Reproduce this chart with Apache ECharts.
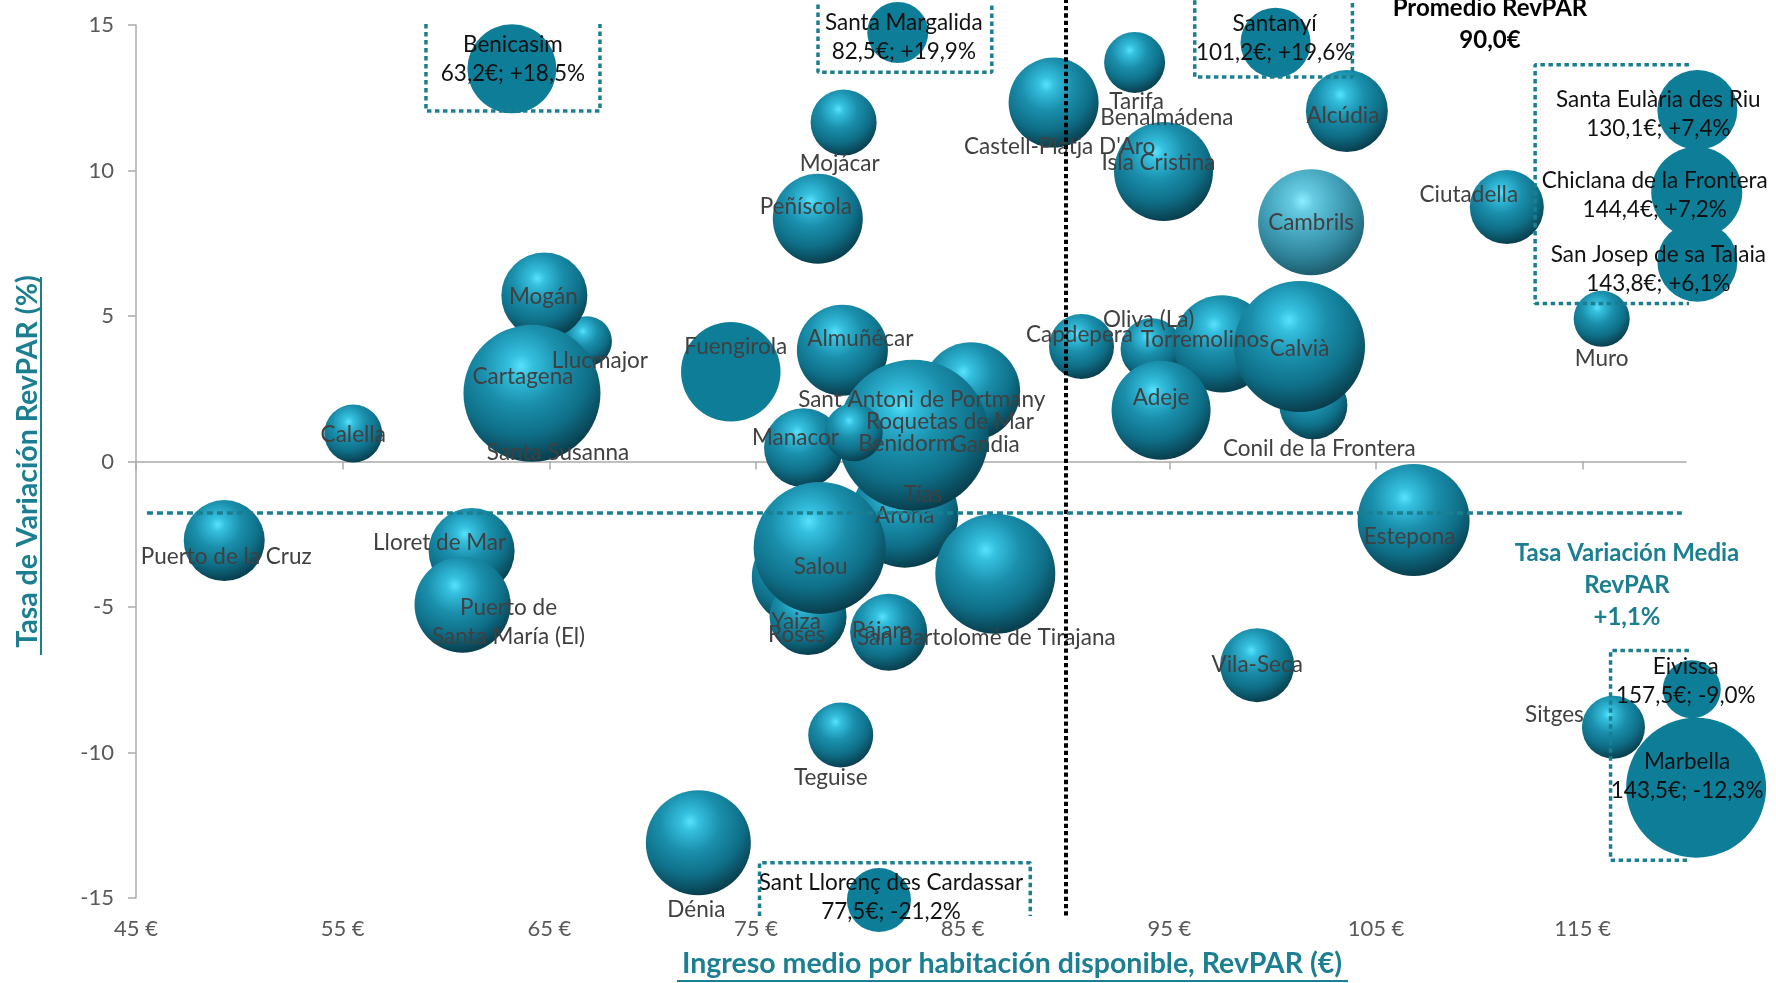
<!DOCTYPE html>
<html>
<head>
<meta charset="utf-8">
<script src="https://cdn.jsdelivr.net/npm/echarts@6/dist/echarts.min.js"></script>
<style>
html,body{margin:0;padding:0;background:#ffffff;}
#c{width:1776px;height:983px;}
</style>
</head>
<body>
<div id="c"></div>
<script>
// ---------------- DATA ----------------
const names = [
  'Benalmádena','Santa Susanna','Roquetas de Mar','Tías','Roses','Yaiza','Llucmajor','Mogán','Cartagena',
  'Calella','Puerto de la Cruz','Lloret de Mar','Puerto de Santa María (El)','Mojácar','Peñíscola','Almuñécar',
  'Gandia','Arona','Manacor','Benidorm','Sant Antoni de Portmany','Salou','Pájara','San Bartolomé de Tirajana',
  'Teguise','Dénia',"Castell-Platja D'Aro",'Tarifa','Isla Cristina','Alcúdia','Cambrils','Ciutadella','Muro',
  'Capdepera','Oliva (La)','Torremolinos','Adeje','Conil de la Frontera','Calvià','Estepona','Vila-Seca','Sitges',
  'Fuengirola','Benicasim','Santa Margalida','Santanyí','Santa Eulària des Riu','Chiclana de la Frontera',
  'San Josep de sa Talaia','Eivissa','Marbella','Sant Llorenç des Cardassar'
];
// plotted RevPAR (€)
const revpar = [
  94.69,64.55,84.14,82.69,77.12,77.52,66.82,64.76,64.16,
  55.51,49.27,61.24,60.80,79.24,77.99,79.18,
  85.41,82.20,77.30,82.61,79.73,78.08,81.42,86.58,
  79.10,72.21,89.40,93.32,94.72,103.59,101.86,111.33,115.92,
  90.75,94.14,97.54,94.60,101.97,101.30,106.82,99.25,116.49,
  73.78,63.19,81.86,100.14,120.55,120.52,
  120.55,120.28,120.49,80.95
];
// plotted RevPAR variation (%)
const variation = [
  9.96,1.50,1.16,-1.40,-3.97,-5.33,4.13,5.70,2.34,
  0.96,-2.72,-3.08,-4.92,11.65,8.34,3.82,
  2.41,-1.81,0.47,0.90,1.00,-2.97,-5.87,-3.86,
  -9.40,-13.10,12.33,13.71,9.96,12.04,8.22,8.74,4.90,
  3.95,3.86,4.04,1.76,1.93,3.95,-2.01,-7.00,-9.13,
  3.08,13.49,14.74,14.39,12.08,9.25,
  6.86,-7.83,-11.21,-15.07
];
// bubble size (relative units)
const bubbleSize = [
  49,36,31.4,19.4,92.2,59.3,25,74,187.7,
  33.6,65.6,74,92.2,43.6,81,82.8,
  96,114.5,62.4,228,33.6,174.2,59.3,144,
  42.3,110.3,81,37.2,98,67.2,112.4,54.8,31.4,
  42.3,38.4,94.1,98,46.2,171.6,125.4,54.8,39.7,
  99,79.2,37.2,49,64,82.8,
  64,33.6,196,41
];
// callouts: real values printed in the boxes
const calloutNames = ['Benicasim','Santa Margalida','Santanyí','Santa Eulària des Riu','Chiclana de la Frontera',
  'San Josep de sa Talaia','Eivissa','Marbella','Sant Llorenç des Cardassar'];
const calloutRevpar = [63.2, 82.5, 101.2, 130.1, 144.4, 143.8, 157.5, 143.5, 77.5];
const calloutVariation = [18.5, 19.9, 19.6, 7.4, 7.2, 6.1, -9.0, -12.3, -21.2];

const xTicks = [45, 55, 65, 75, 85, 95, 105, 115];
const yTicks = [-15, -10, -5, 0, 5, 10, 15];
const avgRevpar = 90.0;
const avgVariation = 1.1;
const avgVariationLineY = -1.77;

// ---------------- LAYOUT / STYLE ----------------
const flatNames = new Set(['Fuengirola'].concat(calloutNames));
const labelOffset = {
  'Benalmádena':[4,-54],'Santa Susanna':[18,35],'Roquetas de Mar':[5,-6],'Tías':[8,-7.5],'Roses':[-3,58],
  'Yaiza':[-12,5],'Llucmajor':[13,19],'Mogán':[-1,1],'Cartagena':[-9,-17],'Calella':[0,1],
  'Puerto de la Cruz':[2,16],'Lloret de Mar':[-32,-8],'Puerto de Santa María (El)':[46,18],'Mojácar':[-4,41],
  'Peñíscola':[-12,-12],'Almuñécar':[18,-12],'Gandia':[14,53],'Manacor':[-8,-10],'Benidorm':[-7,8.5],
  'Sant Antoni de Portmany':[68,-33],'Arona':[0,2],'Salou':[1,18.5],'Pájara':[-7,-2],
  'San Bartolomé de Tirajana':[-9,64],'Teguise':[-10,43],'Dénia':[-2,67],"Castell-Platja D'Aro":[6,44],
  'Tarifa':[2,39],'Isla Cristina':[-5,-9],'Alcúdia':[-4,5],'Cambrils':[0,1],'Ciutadella':[-38,-12],
  'Muro':[0,40],'Capdepera':[-2,-12],'Oliva (La)':[-3,-29],'Torremolinos':[-17,-4],'Adeje':[0,-12],
  'Conil de la Frontera':[6,43],'Calvià':[0,2],'Estepona':[-4,17],'Vila-Seca':[0,0],'Sitges':[-59,-12],
  'Fuengirola':[5,-25],'Benicasim':[1,-10],'Santa Margalida':[6,5],'Santanyí':[-1,-4],
  'Santa Eulària des Riu':[-39,4.5],'Chiclana de la Frontera':[-42,3],'San Josep de sa Talaia':[-39,7],
  'Eivissa':[-6,-8],'Marbella':[-9,-11.5],'Sant Llorenç des Cardassar':[12,-2.5]
};
// dotted annotation frames (axis units)
const frames = [
  [[59.03,15.03],[59.03,12.04],[67.45,12.04],[67.45,15.03]],
  [[78.0,15.7],[78.0,13.37],[86.41,13.37],[86.41,15.7]],
  [[96.23,16.4],[96.23,13.21],[103.86,13.21],[103.86,16.4]],
  [[124.4,13.63],[112.70,13.63],[112.70,5.43],[124.4,5.43]],
  [[124.4,-6.50],[116.35,-6.50],[116.35,-13.70],[124.4,-13.70]],
  [[75.17,-15.62],[75.17,-13.79],[88.27,-13.79],[88.27,-15.62]]
];

const FONT = 'Lato, "Open Sans", sans-serif';
const TEAL = '#1b7f91';
const FLAT = '#0e7d98';
const sphere = {type:'radial', x:0.42, y:0.3, r:0.72, colorStops:[
  {offset:0, color:'#58e2fc'},{offset:0.12, color:'#35c0df'},{offset:0.4, color:'#1a8fac'},
  {offset:0.7, color:'#0f6f88'},{offset:0.9, color:'#0a4c5e'},{offset:1, color:'#083b49'}]};
const sphereLight = {type:'radial', x:0.42, y:0.3, r:0.72, colorStops:[
  {offset:0, color:'#8eeeff'},{offset:0.15, color:'#66cbe2'},{offset:0.45, color:'#46a6be'},
  {offset:0.75, color:'#2e8298'},{offset:1, color:'#1b5868'}]};

const fmt = v => v.toFixed(1).replace('.', ',');
const sgn = v => (v > 0 ? '+' : '') + fmt(v);
function labelText(n) {
  const i = calloutNames.indexOf(n);
  if (i >= 0) return n + '\n' + fmt(calloutRevpar[i]) + '€; ' + sgn(calloutVariation[i]) + '%';
  if (n === 'Puerto de Santa María (El)') return 'Puerto de\nSanta María (El)';
  return n;
}

const sphereData = [], flatData = [];
names.forEach((n, i) => {
  const item = {name: n, value: [revpar[i], variation[i], bubbleSize[i]],
    label: {offset: labelOffset[n] || [0, 0]}};
  if (calloutNames.indexOf(n) >= 0) item.label.color = '#111111';
  if (n === 'Cambrils') item.itemStyle = {color: sphereLight};
  (flatNames.has(n) ? flatData : sphereData).push(item);
});

const bubbleLabel = {show: true, position: 'inside', align: 'center', verticalAlign: 'middle',
  color: '#404040', fontSize: 22.5, fontFamily: FONT, lineHeight: 29,
  formatter: p => labelText(p.name)};

const series = [
  {type: 'scatter', name: 'sphere', data: sphereData, symbolSize: v => 10 * Math.sqrt(v[2]),
   itemStyle: {color: sphere, opacity: 1}, label: bubbleLabel, clip: false, silent: true,
   emphasis: {disabled: true}, z: 2},
  {type: 'scatter', name: 'flat', data: flatData, symbolSize: v => 10 * Math.sqrt(v[2]),
   itemStyle: {color: FLAT, opacity: 1}, label: bubbleLabel, clip: false, silent: true,
   emphasis: {disabled: true}, z: 2}
];
frames.forEach(f => series.push({type: 'line', data: f, symbol: 'none', clip: false, silent: true, z: 5,
  lineStyle: {color: TEAL, width: 3.5, type: [4.5, 3.5], cap: 'butt'}}));
series.push({type: 'line', data: [[avgRevpar, 16.4], [avgRevpar, -15.62]], symbol: 'none', clip: false,
  silent: true, z: 5, lineStyle: {color: '#000000', width: 4, type: [4.3, 3], cap: 'butt'}});
series.push({type: 'line', data: [[45.53, avgVariationLineY], [119.8, avgVariationLineY]], symbol: 'none',
  clip: false, silent: true, z: 5, lineStyle: {color: TEAL, width: 3.5, type: [6, 4], cap: 'butt'}});

const axisGray = '#ababab';
const option = {
  backgroundColor: '#ffffff',
  animation: false,
  grid: {left: 136, right: 90, top: 24.9, bottom: 80.2, containLabel: false},
  xAxis: [
    {type: 'value', min: 45, max: 120, interval: 10, position: 'bottom',
     axisLine: {show: false, onZero: false}, axisTick: {show: false}, splitLine: {show: false},
     axisLabel: {customValues: xTicks, formatter: v => (v > 117 ? '' : v + ' €'), color: '#595959', fontSize: 22,
       fontFamily: FONT, margin: 20},
     name: 'Ingreso medio por habitación disponible, RevPAR (€)', nameLocation: 'middle', nameGap: 51,
     nameTextStyle: {color: TEAL, fontSize: 28.5, fontWeight: 'bold', fontFamily: FONT, padding: [0, 0, 0, 202]}},
    {type: 'value', min: 45, max: 120, interval: 10, position: 'top',
     axisLine: {show: true, onZero: true, lineStyle: {color: axisGray, width: 1.5}},
     axisTick: {show: true, inside: true, length: 8, customValues: xTicks, lineStyle: {color: axisGray, width: 1.5}},
     axisLabel: {show: false}, splitLine: {show: false}}
  ],
  yAxis: [
    {type: 'value', min: -15, max: 15, interval: 5,
     axisLine: {show: true, onZero: false, lineStyle: {color: axisGray, width: 1.5}},
     axisTick: {show: true, length: 8, customValues: yTicks, lineStyle: {color: axisGray, width: 1.5}},
     axisLabel: {customValues: yTicks, color: '#595959', fontSize: 22, fontFamily: FONT, margin: 22},
     splitLine: {show: false},
     name: 'Tasa de Variación RevPAR (%)', nameLocation: 'middle', nameGap: 94, nameRotate: 90,
     nameTextStyle: {color: TEAL, fontSize: 28.5, fontWeight: 'bold', fontFamily: FONT}}
  ],
  graphic: [
    {type: 'text', x: 1490, y: 24.2, silent: true, style: {text: 'Promedio RevPAR\n' + fmt(avgRevpar) + '€',
      fill: '#000000', fontSize: 24, fontWeight: 'bold', fontFamily: FONT, align: 'center',
      verticalAlign: 'middle', lineHeight: 31.7}},
    {type: 'text', x: 1627, y: 585.3, silent: true,
      style: {text: 'Tasa Variación Media\nRevPAR\n' + sgn(avgVariation) + '%',
      fill: TEAL, fontSize: 24, fontWeight: 'bold', fontFamily: FONT, align: 'center',
      verticalAlign: 'middle', lineHeight: 31.7}},
    {type: 'line', silent: true, shape: {x1: 677, y1: 981, x2: 1348, y2: 981},
      style: {stroke: TEAL, lineWidth: 2}},
    {type: 'line', silent: true, shape: {x1: 41, y1: 277, x2: 41, y2: 655},
      style: {stroke: TEAL, lineWidth: 2}}
  ],
  series: series
};

const chart = echarts.init(document.getElementById('c'), null, {renderer: 'canvas', width: 1776, height: 983});
chart.setOption(option);
</script>
</body>
</html>
